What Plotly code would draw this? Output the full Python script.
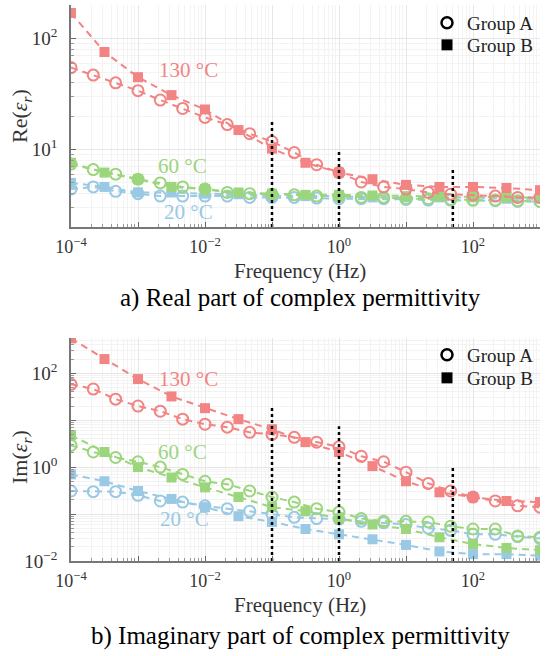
import plotly.graph_objects as go

# ---------------- data ----------------
freq_A = [1.0e-4, 2.15e-4, 4.64e-4, 1.0e-3, 2.15e-3, 4.64e-3, 1.0e-2, 2.15e-2, 4.64e-2,
          0.1, 0.215, 0.464, 1.0, 2.15, 4.64, 10.0, 21.5, 46.4, 100.0, 215.0, 464.0, 1000.0]
freq_B = [1.0e-4, 3.16e-4, 1.0e-3, 3.16e-3, 1.0e-2, 3.16e-2, 0.1, 0.316, 1.0, 3.16,
          10.0, 31.6, 100.0, 316.0, 1000.0]

re_130_A = [55, 47, 40, 34, 28, 23.5, 19.5, 16.8, 13.9, 11.8, 9.4, 7.3, 6.2, 5.1, 4.6, 4.4,
            4.1, 3.95, 3.9, 3.8, 3.7, 3.7]
re_130_B = [171, 76, 45, 31, 23, 15, 10.2, 7.6, 6.2, 5.4, 4.8, 4.6, 4.6, 4.5, 4.3]
re_60_A = [7.4, 6.6, 6.0, 5.4, 5.0, 4.6, 4.4, 4.1, 4.0, 3.95, 3.9, 3.8, 3.8, 3.7, 3.7, 3.6,
           3.6, 3.55, 3.5, 3.5, 3.45, 3.4]
re_60_B = [7.6, 6.2, 5.4, 4.6, 4.4, 4.1, 4.0, 3.9, 3.9, 3.85, 3.8, 3.8, 3.75, 3.7, 3.7]
re_20_A = [4.4, 4.6, 4.2, 4.0, 3.8, 3.8, 3.8, 3.8, 3.7, 3.7, 3.7, 3.65, 3.6, 3.6, 3.6, 3.55,
           3.5, 3.5, 3.5, 3.45, 3.4, 3.4]
re_20_B = [5.0, 4.6, 4.1, 4.1, 4.0, 3.95, 3.8, 3.8, 3.8, 3.7, 3.7, 3.7, 3.7, 3.6, 3.6]

im_130_A = [58, 46, 28, 20, 15.5, 10.5, 8.2, 7.1, 5.5, 5.0, 4.3, 3.4, 2.7, 1.7, 1.3, 0.78,
            0.45, 0.31, 0.23, 0.19, 0.15, 0.14]
im_130_B = [550, 200, 75, 32, 18, 10.5, 6.4, 3.4, 2.1, 1.05, 0.5, 0.29, 0.23, 0.19, 0.18]
im_60_A = [2.9, 2.1, 1.6, 1.3, 1.0, 0.7, 0.5, 0.43, 0.31, 0.23, 0.18, 0.13, 0.11, 0.08, 0.07,
           0.07, 0.068, 0.055, 0.048, 0.048, 0.034, 0.032]
im_60_B = [4.8, 2.1, 1.0, 0.6, 0.37, 0.23, 0.14, 0.115, 0.08, 0.06, 0.048, 0.032, 0.023,
           0.019, 0.017]
im_20_A = [0.31, 0.30, 0.30, 0.25, 0.19, 0.18, 0.15, 0.13, 0.115, 0.10, 0.085, 0.08, 0.078,
           0.07, 0.065, 0.06, 0.05, 0.045, 0.037, 0.037, 0.033, 0.03]
im_20_B = [0.7, 0.5, 0.31, 0.21, 0.14, 0.09, 0.068, 0.048, 0.037, 0.029, 0.022, 0.016,
           0.014, 0.014, 0.013]

marker_freqs = [0.1, 1.0, 50.0]
re_marker_tops = [18.6, 9.6, 6.9]
im_marker_tops = [19.0, 7.4, 1.0]
re_floor = 2.0
im_floor = 0.01

temps = ["20 °C", "60 °C", "130 °C"]
re_label_pos = [(-2.25, 0.44), (-2.34, 0.85), (-2.25, 1.72)]
im_label_pos = [(-2.30, -1.10), (-2.34, 0.32), (-2.25, 1.87)]

x_tickvals = [1e-4, 1e-3, 1e-2, 1e-1, 1, 10, 100, 1000]
x_ticktext = ["10<sup>−4</sup>", "", "10<sup>−2</sup>", "", "10<sup>0</sup>", "",
              "10<sup>2</sup>", ""]
re_tickvals = [1, 10, 100]
re_ticktext = ["", "10<sup>1</sup>", "10<sup>2</sup>"]
im_tickvals = [1e-2, 1e-1, 1, 10, 100]
im_ticktext = ["10<sup>−2</sup>", "", "10<sup>0</sup>", "", "10<sup>2</sup>"]

group_names = ["Group A", "Group B"]

colors = {"20 °C": "rgb(153,201,228)", "60 °C": "rgb(156,214,124)", "130 °C": "rgb(242,132,132)"}

# ---------------- figure ----------------
FONT = "Liberation Serif"
fig = go.Figure()

series = {
    "re": {"20 °C": (re_20_A, re_20_B), "60 °C": (re_60_A, re_60_B), "130 °C": (re_130_A, re_130_B)},
    "im": {"20 °C": (im_20_A, im_20_B), "60 °C": (im_60_A, im_60_B), "130 °C": (im_130_A, im_130_B)},
}
axes = {"re": ("x", "y"), "im": ("x2", "y2")}

for part in ["re", "im"]:
    xa, ya = axes[part]
    for t in temps:
        a_vals, b_vals = series[part][t]
        c = colors[t]
        fig.add_trace(go.Scatter(
            x=freq_A, y=a_vals, mode="lines+markers", xaxis=xa, yaxis=ya, showlegend=False,
            line=dict(color=c, width=2, dash="7px,5px"),
            marker=dict(symbol="circle-open", size=11, color=c, line=dict(width=2, color=c))))
        fig.add_trace(go.Scatter(
            x=freq_B, y=b_vals, mode="lines+markers", xaxis=xa, yaxis=ya, showlegend=False,
            line=dict(color=c, width=2, dash="7px,5px"),
            marker=dict(symbol="square", size=10, color=c)))
    tops = re_marker_tops if part == "re" else im_marker_tops
    floor = re_floor if part == "re" else im_floor
    for f, top in zip(marker_freqs, tops):
        fig.add_trace(go.Scatter(
            x=[f, f], y=[floor, top], mode="lines", xaxis=xa, yaxis=ya, showlegend=False,
            line=dict(color="black", width=2.5, dash="dot")))

# legend entries (one legend box per entry for exact row spacing)
legend_rows = [("legend", group_names[0], "circle-open", 23),
               ("legend2", group_names[1], "square", 45),
               ("legend3", group_names[0], "circle-open", 355),
               ("legend4", group_names[1], "square", 378)]
legend_layout = {}
for leg, name, sym, ypx in legend_rows:
    mk = dict(symbol=sym, size=11, color="black")
    if sym == "circle-open":
        mk["line"] = dict(width=2.5, color="black")
    fig.add_trace(go.Scatter(x=[None], y=[None], mode="markers", name=name, legend=leg,
                             marker=mk))
    legend_layout[leg] = dict(x=427 / 546, y=1 - ypx / 656, xanchor="left", yanchor="middle",
                              bgcolor="rgba(0,0,0,0)", borderwidth=0,
                              font=dict(family=FONT, size=19, color="#222"),
                              tracegroupgap=0, itemwidth=30)

grid_major = "rgb(230,230,230)"
grid_minor = "rgb(243,243,243)"

def minor_vals(e0, e1):
    return [m * 10.0 ** e for e in range(e0, e1) for m in range(2, 10)]

def axis_cfg(rng, dom, anchor, tv, tt, mv, is_y):
    d = dict(type="log", range=rng, domain=dom, anchor=anchor, automargin=False,
             tickmode="array", tickvals=tv, ticktext=tt, ticks="inside", ticklen=5,
             tickcolor="#666", showline=True, linecolor="#777", linewidth=1.5,
             showgrid=True, gridcolor=grid_major, gridwidth=1, zeroline=False,
             minor=dict(tickmode="array", tickvals=mv, ticks="inside", ticklen=3,
                        tickcolor="#999", showgrid=True, gridcolor=grid_minor, gridwidth=1),
             tickfont=dict(family=FONT, size=19 if is_y else 18, color="#333"))
    d["ticklabelstandoff"] = 8 if is_y else 3
    return d

fig.update_layout(
    width=546, height=656, margin=dict(l=0, r=0, t=0, b=0, autoexpand=False),
    paper_bgcolor="white", plot_bgcolor="white",
    xaxis=axis_cfg([-4, 3], [71 / 546, 540 / 546], "y", x_tickvals, x_ticktext,
                   minor_vals(-4, 3), False),
    yaxis=axis_cfg([0.301, 2.305], [1 - 227 / 656, 1 - 5 / 656], "x", re_tickvals,
                   re_ticktext, minor_vals(0, 3), True),
    xaxis2=axis_cfg([-4, 3], [71 / 546, 540 / 546], "y2", x_tickvals, x_ticktext,
                    minor_vals(-4, 3), False),
    yaxis2=axis_cfg([-2, 2.75], [1 - 561 / 656, 1 - 338 / 656], "x2", im_tickvals,
                    im_ticktext, minor_vals(-2, 3), True),
    **legend_layout,
)

annotations = []
for (lx, ly), t in zip(re_label_pos, temps):
    annotations.append(dict(x=lx, y=ly, xref="x", yref="y", text=t, showarrow=False,
                            xanchor="center", yanchor="middle",
                            font=dict(family=FONT, size=21, color=colors[t])))
for (lx, ly), t in zip(im_label_pos, temps):
    annotations.append(dict(x=lx, y=ly, xref="x2", yref="y2", text=t, showarrow=False,
                            xanchor="center", yanchor="middle",
                            font=dict(family=FONT, size=21, color=colors[t])))

def paper_y(px):
    return 1 - px / 656

def ptext(x, y, text, size, color, angle=0):
    return dict(x=x / 546, y=paper_y(y), xref="paper", yref="paper", text=text,
                showarrow=False, xanchor="center", yanchor="middle", textangle=angle,
                font=dict(family=FONT, size=size, color=color))

annotations += [
    ptext(300, 271, "Frequency (Hz)", 21, "#333"),
    ptext(300, 605, "Frequency (Hz)", 21, "#333"),
    ptext(300, 298, "a) Real part of complex permittivity", 25, "black"),
    ptext(300, 636, "b) Imaginary part of complex permittivity", 25, "black"),
    ptext(21, 116, "Re(<i>ε<sub>r</sub></i>)", 22, "#333", -90),
    ptext(21, 457, "Im(<i>ε<sub>r</sub></i>)", 22, "#333", -90),
]
fig.update_layout(annotations=annotations)

fig.write_html("out.html")
